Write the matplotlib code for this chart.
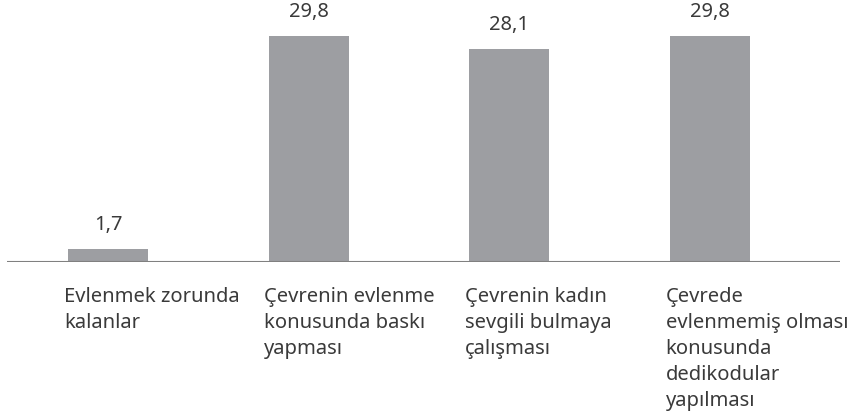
import matplotlib
matplotlib.use("Agg")
import matplotlib.pyplot as plt

CATEGORIES = [
    "Evlenmek zorunda\nkalanlar",
    "Çevrenin evlenme\nkonusunda baskı\nyapması",
    "Çevrenin kadın\nsevgili bulmaya\nçalışması",
    "Çevrede\nevlenmemiş olması\nkonusunda\ndedikodular\nyapılması",
]
VALUES = [1.7, 29.8, 28.1, 29.8]

BAR_COLOR = "#9d9ea2"
TEXT_COLOR = "#3a3a3a"
LINE_COLOR = "#808080"


def main():
    plt.rcParams["font.family"] = ["Noto Sans", "DejaVu Sans"]
    fig = plt.figure(figsize=(8.49, 4.18), dpi=100)
    ax = fig.add_axes([7 / 849, 1 - 262 / 418, 833 / 849, 262 / 418])

    xs = range(len(VALUES))
    width = 0.4
    ax.bar(xs, VALUES, width=width, color=BAR_COLOR, zorder=2)

    for x, v in zip(xs, VALUES):
        ax.annotate(f"{v:.1f}".replace(".", ","), (x, v), xytext=(0, 10),
                    textcoords="offset points", ha="center", va="bottom",
                    fontsize=14.5, color=TEXT_COLOR)
        ax.annotate(CATEGORIES[x], (x - width / 2, 0), xytext=(-3, -18),
                    textcoords="offset points", ha="left", va="top",
                    fontsize=14.5, color=TEXT_COLOR, linespacing=1.4,
                    annotation_clip=False)

    ax.axhline(0, color=LINE_COLOR, linewidth=1.5, zorder=3)
    ax.set_xlim(-0.504, 3.648)
    ax.set_ylim(0, 34.55)
    ax.axis("off")

    fig.savefig("out.png", dpi=100)


if __name__ == "__main__":
    main()
